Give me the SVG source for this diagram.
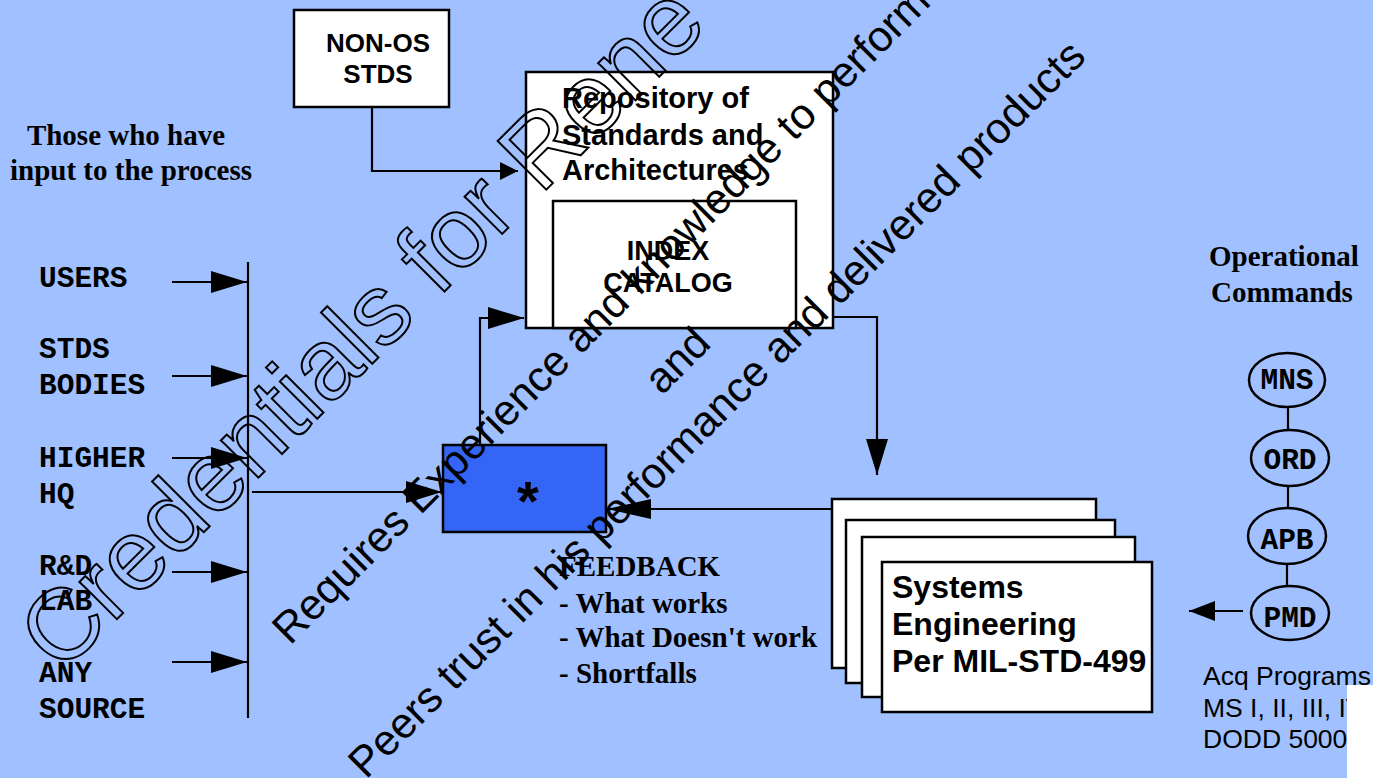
<svg xmlns="http://www.w3.org/2000/svg" width="1373" height="778" viewBox="0 0 1373 778">
  <style>
    .box { fill: #ffffff; stroke: #000000; stroke-width: 2.5; }
    .star { fill: #3465f5; stroke: #000000; stroke-width: 2.5; }
    .oval { fill: none; stroke: #000000; stroke-width: 2.5; }
    .wire { fill: none; stroke: #000000; stroke-width: 2.2; }
    .sansb { font-family: "Liberation Sans", Arial, sans-serif; font-weight: bold; fill: #000000; }
    .sans { font-family: "Liberation Sans", Arial, sans-serif; fill: #000000; }
    .serifb { font-family: "Liberation Serif", "Times New Roman", serif; font-weight: bold; fill: #000000; }
    .monob { font-family: "Liberation Mono", "Courier New", monospace; font-weight: bold; fill: #000000; font-size: 29.5px; }
    .wm { font-family: "Liberation Sans", Arial, sans-serif; font-size: 43px; fill: #000000; }
    .wmo { font-family: "Liberation Sans", Arial, sans-serif; font-size: 100px; fill: none; stroke: #000000; stroke-width: 2; }
  </style>
  <defs>
    <marker id="arr" markerUnits="userSpaceOnUse" markerWidth="36" markerHeight="22" refX="36" refY="11" orient="auto">
      <path d="M0,0 L36,11 L0,22 Z" fill="#000000"/>
    </marker>
    <marker id="arrL" markerUnits="userSpaceOnUse" markerWidth="44" markerHeight="20" refX="44" refY="10" orient="auto">
      <path d="M0,0 L44,10 L0,20 Z" fill="#000000"/>
    </marker>
    <marker id="arrM" markerUnits="userSpaceOnUse" markerWidth="26" markerHeight="20" refX="26" refY="10" orient="auto">
      <path d="M0,0 L26,10 L0,20 Z" fill="#000000"/>
    </marker>
    <marker id="arrS" markerUnits="userSpaceOnUse" markerWidth="18" markerHeight="18" refX="18" refY="9" orient="auto">
      <path d="M0,0 L18,9 L0,18 Z" fill="#000000"/>
    </marker>
  </defs>

  <rect x="0" y="0" width="1373" height="778" fill="#a0c0ff"/>

  <!-- headings -->
  <g id="label-inputs">
    <text class="serifb" font-size="29" text-anchor="middle" x="126" y="145">Those who have</text>
    <text class="serifb" font-size="29" text-anchor="middle" x="131" y="180">input to the process</text>
  </g>
  <g id="label-opcommands">
    <text class="serifb" font-size="29" x="1209" y="266">Operational</text>
    <text class="serifb" font-size="29" x="1211" y="302">Commands</text>
  </g>

  <!-- input sources -->
  <g id="node-users"><text class="monob" x="39" y="287">USERS</text></g>
  <g id="node-stds-bodies">
    <text class="monob" x="39" y="358">STDS</text>
    <text class="monob" x="39" y="394">BODIES</text>
  </g>
  <g id="node-higher-hq">
    <text class="monob" x="39" y="467">HIGHER</text>
    <text class="monob" x="39" y="503">HQ</text>
  </g>
  <g id="node-rnd-lab">
    <text class="monob" x="39" y="575">R&amp;D</text>
    <text class="monob" x="39" y="610">LAB</text>
  </g>
  <g id="node-any-source">
    <text class="monob" x="39" y="682">ANY</text>
    <text class="monob" x="39" y="718">SOURCE</text>
  </g>

  <!-- non-OS standards -->
  <g id="node-nonos">
    <rect class="box" x="294" y="10" width="155" height="97"/>
    <text class="sansb" font-size="26" text-anchor="middle" x="378" y="52">NON-OS</text>
    <text class="sansb" font-size="26" text-anchor="middle" x="378" y="83">STDS</text>
  </g>

  <!-- repository with its index -->
  <g id="node-repository">
    <rect class="box" x="526" y="72" width="307" height="256"/>
    <text class="sansb" font-size="29" x="562" y="108">Repository of</text>
    <text class="sansb" font-size="29" x="562" y="145">Standards and</text>
    <text class="sansb" font-size="29" x="562" y="180">Architectures</text>
  </g>
  <g id="node-index">
    <rect class="box" x="553" y="201" width="243" height="127"/>
    <text class="sansb" font-size="27" text-anchor="middle" x="668" y="260">INDEX</text>
    <text class="sansb" font-size="27" text-anchor="middle" x="668" y="292">CATALOG</text>
  </g>

  <!-- central process -->
  <g id="node-star">
    <rect class="star" x="443" y="445" width="163" height="87"/>
    <text class="sansb" font-size="56" text-anchor="middle" x="528" y="520">*</text>
  </g>

  <!-- feedback notes -->
  <g id="label-feedback">
    <text class="serifb" font-size="29" x="559" y="576">FEEDBACK</text>
    <text class="serifb" font-size="29" x="559" y="613">- What works</text>
    <text class="serifb" font-size="29" x="559" y="647">- What Doesn't work</text>
    <text class="serifb" font-size="29" x="559" y="683">- Shortfalls</text>
  </g>

  <!-- systems engineering stack -->
  <g id="node-systems-engineering">
    <rect class="box" x="832" y="499" width="264" height="169"/>
    <rect class="box" x="846" y="520" width="269" height="163"/>
    <rect class="box" x="862" y="537" width="273" height="160"/>
    <rect class="box" x="882" y="562" width="270" height="150"/>
    <text class="sansb" font-size="32" x="892" y="598">Systems</text>
    <text class="sansb" font-size="32" x="892" y="635">Engineering</text>
    <text class="sansb" font-size="32" x="892" y="672">Per MIL-STD-499</text>
  </g>

  <!-- operational command chain -->
  <g id="node-mns">
    <ellipse class="oval" cx="1287" cy="380" rx="38" ry="27"/>
    <text class="monob" font-size="29" text-anchor="middle" x="1287" y="389">MNS</text>
  </g>
  <g id="node-ord">
    <ellipse class="oval" cx="1290" cy="458" rx="39" ry="28"/>
    <text class="monob" text-anchor="middle" x="1290" y="469">ORD</text>
  </g>
  <g id="node-apb">
    <ellipse class="oval" cx="1287" cy="536" rx="39" ry="28"/>
    <text class="monob" text-anchor="middle" x="1287" y="549">APB</text>
  </g>
  <g id="node-pmd">
    <ellipse class="oval" cx="1290" cy="613" rx="39" ry="27"/>
    <text class="monob" text-anchor="middle" x="1290" y="627">PMD</text>
  </g>
  <g id="label-acq">
    <text class="sans" font-size="26.5" x="1203" y="685">Acq Programs</text>
    <text class="sans" font-size="26.5" x="1203" y="717">MS I, II, III, IV</text>
    <text class="sans" font-size="26.5" x="1203" y="748">DODD 5000</text>
  </g>

  <!-- connectors -->
  <g id="connectors">
    <line class="wire" x1="248" y1="262" x2="248" y2="718"/>
    <line class="wire" x1="172" y1="282" x2="247" y2="282" marker-end="url(#arr)"/>
    <line class="wire" x1="172" y1="376" x2="247" y2="376" marker-end="url(#arr)"/>
    <line class="wire" x1="172" y1="458" x2="247" y2="458" marker-end="url(#arr)"/>
    <line class="wire" x1="172" y1="572" x2="247" y2="572" marker-end="url(#arr)"/>
    <line class="wire" x1="172" y1="662" x2="247" y2="662" marker-end="url(#arr)"/>
    <line class="wire" x1="252" y1="492" x2="442" y2="492" marker-end="url(#arr)"/>
    <path class="wire" d="M372,107 V171 H518" marker-end="url(#arrS)"/>
    <path class="wire" d="M480,445 V318 H524" marker-end="url(#arr)"/>
    <path class="wire" d="M833,317 H877 V475" marker-end="url(#arr)"/>
    <line class="wire" x1="832" y1="509" x2="607" y2="509" marker-end="url(#arrL)"/>
    <line class="wire" x1="1288" y1="407" x2="1288" y2="430"/>
    <line class="wire" x1="1288" y1="486" x2="1288" y2="508"/>
    <line class="wire" x1="1287" y1="564" x2="1287" y2="586"/>
    <line class="wire" x1="1243" y1="611" x2="1189" y2="611" marker-end="url(#arrM)"/>
  </g>

  <!-- diagonal overlay lettering -->
  <g id="overlay">
    <text class="wmo" transform="translate(61,675) rotate(-45)">Credentials for Rene</text>
    <text class="wm" transform="translate(290,646) rotate(-45)">Requires Experience and knowledge to perform</text>
    <text class="wm" transform="translate(662,396) rotate(-45)">and</text>
    <text class="wm" transform="translate(366,780) rotate(-45)">Peers trust in his performance and delivered products</text>
  </g>

  <rect x="1347" y="685" width="26" height="93" fill="#ffffff"/>
</svg>
